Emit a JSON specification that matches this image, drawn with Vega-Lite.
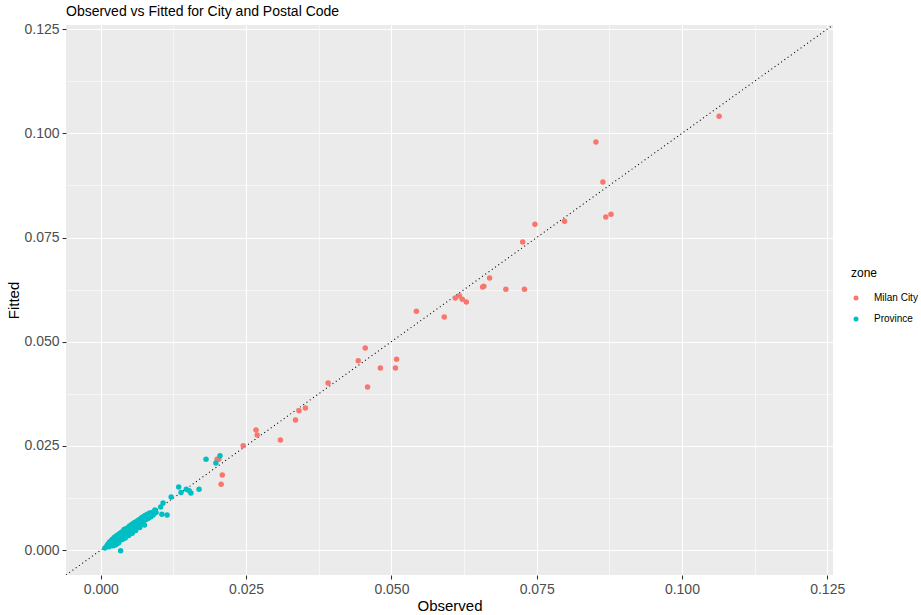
{
  "$schema": "https://vega.github.io/schema/vega-lite/v6.json",
  "width": 767,
  "height": 550,
  "autosize": {"type": "none"},
  "padding": {"left": 66, "top": 25, "right": 88, "bottom": 40},
  "background": "white",
  "title": {"text": "Observed vs Fitted for City and Postal Code", "anchor": "start", "frame": "group", "fontSize": 14, "fontWeight": "normal", "font": "Liberation Sans", "color": "black", "offset": 3},
  "config": {
    "view": {"stroke": null, "fill": "#EBEBEB"},
    "axis": {"labelFont": "Liberation Sans", "labelFontSize": 14, "labelColor": "#4D4D4D", "tickColor": "#333333", "tickSize": 4, "tickWidth": 1.1, "domain": false, "gridColor": "white", "gridWidth": 1.1, "titleFont": "Liberation Sans", "titleFontSize": 15, "titleFontWeight": "normal", "titleColor": "black", "labelPadding": 3},
    "legend": {"titleFont": "Liberation Sans", "labelFont": "Liberation Sans"}
  },
  "datasets": {
    "pts": [
      {"observed": 0.1064, "fitted": 0.1041, "zone": "Milan City"},
      {"observed": 0.0852, "fitted": 0.0979, "zone": "Milan City"},
      {"observed": 0.0864, "fitted": 0.0883, "zone": "Milan City"},
      {"observed": 0.0869, "fitted": 0.0799, "zone": "Milan City"},
      {"observed": 0.0878, "fitted": 0.0806, "zone": "Milan City"},
      {"observed": 0.0798, "fitted": 0.0789, "zone": "Milan City"},
      {"observed": 0.0747, "fitted": 0.0782, "zone": "Milan City"},
      {"observed": 0.0726, "fitted": 0.0739, "zone": "Milan City"},
      {"observed": 0.0669, "fitted": 0.0653, "zone": "Milan City"},
      {"observed": 0.0659, "fitted": 0.0633, "zone": "Milan City"},
      {"observed": 0.0657, "fitted": 0.0631, "zone": "Milan City"},
      {"observed": 0.0697, "fitted": 0.0626, "zone": "Milan City"},
      {"observed": 0.0729, "fitted": 0.0626, "zone": "Milan City"},
      {"observed": 0.0617, "fitted": 0.0610, "zone": "Milan City"},
      {"observed": 0.0610, "fitted": 0.0605, "zone": "Milan City"},
      {"observed": 0.0622, "fitted": 0.0602, "zone": "Milan City"},
      {"observed": 0.0629, "fitted": 0.0595, "zone": "Milan City"},
      {"observed": 0.0591, "fitted": 0.0559, "zone": "Milan City"},
      {"observed": 0.0543, "fitted": 0.0573, "zone": "Milan City"},
      {"observed": 0.0455, "fitted": 0.0485, "zone": "Milan City"},
      {"observed": 0.0443, "fitted": 0.0454, "zone": "Milan City"},
      {"observed": 0.0509, "fitted": 0.0458, "zone": "Milan City"},
      {"observed": 0.0507, "fitted": 0.0437, "zone": "Milan City"},
      {"observed": 0.0481, "fitted": 0.0437, "zone": "Milan City"},
      {"observed": 0.0391, "fitted": 0.0401, "zone": "Milan City"},
      {"observed": 0.0459, "fitted": 0.0391, "zone": "Milan City"},
      {"observed": 0.0352, "fitted": 0.0341, "zone": "Milan City"},
      {"observed": 0.0341, "fitted": 0.0334, "zone": "Milan City"},
      {"observed": 0.0335, "fitted": 0.0312, "zone": "Milan City"},
      {"observed": 0.0267, "fitted": 0.0288, "zone": "Milan City"},
      {"observed": 0.0269, "fitted": 0.0276, "zone": "Milan City"},
      {"observed": 0.0309, "fitted": 0.0264, "zone": "Milan City"},
      {"observed": 0.0245, "fitted": 0.0250, "zone": "Milan City"},
      {"observed": 0.0200, "fitted": 0.0218, "zone": "Milan City"},
      {"observed": 0.0203, "fitted": 0.0218, "zone": "Milan City"},
      {"observed": 0.0209, "fitted": 0.0180, "zone": "Milan City"},
      {"observed": 0.0207, "fitted": 0.0158, "zone": "Milan City"},
      {"observed": 0.0181, "fitted": 0.0218, "zone": "Province"},
      {"observed": 0.0205, "fitted": 0.0226, "zone": "Province"},
      {"observed": 0.0198, "fitted": 0.0209, "zone": "Province"},
      {"observed": 0.0169, "fitted": 0.0146, "zone": "Province"},
      {"observed": 0.0134, "fitted": 0.0151, "zone": "Province"},
      {"observed": 0.0147, "fitted": 0.0146, "zone": "Province"},
      {"observed": 0.0152, "fitted": 0.0142, "zone": "Province"},
      {"observed": 0.0155, "fitted": 0.0137, "zone": "Province"},
      {"observed": 0.0138, "fitted": 0.0138, "zone": "Province"},
      {"observed": 0.0121, "fitted": 0.0127, "zone": "Province"},
      {"observed": 0.0107, "fitted": 0.0113, "zone": "Province"},
      {"observed": 0.0103, "fitted": 0.0103, "zone": "Province"},
      {"observed": 0.0105, "fitted": 0.0086, "zone": "Province"},
      {"observed": 0.0114, "fitted": 0.0084, "zone": "Province"},
      {"observed": 0.0093, "fitted": 0.0096, "zone": "Province"},
      {"observed": 0.0089, "fitted": 0.0089, "zone": "Province"},
      {"observed": 0.0007, "fitted": 0.0005, "zone": "Province"},
      {"observed": 0.0010, "fitted": 0.0009, "zone": "Province"},
      {"observed": 0.0012, "fitted": 0.0014, "zone": "Province"},
      {"observed": 0.0014, "fitted": 0.0008, "zone": "Province"},
      {"observed": 0.0015, "fitted": 0.0019, "zone": "Province"},
      {"observed": 0.0017, "fitted": 0.0011, "zone": "Province"},
      {"observed": 0.0018, "fitted": 0.0023, "zone": "Province"},
      {"observed": 0.0019, "fitted": 0.0016, "zone": "Province"},
      {"observed": 0.0020, "fitted": 0.0026, "zone": "Province"},
      {"observed": 0.0021, "fitted": 0.0010, "zone": "Province"},
      {"observed": 0.0022, "fitted": 0.0018, "zone": "Province"},
      {"observed": 0.0023, "fitted": 0.0030, "zone": "Province"},
      {"observed": 0.0024, "fitted": 0.0021, "zone": "Province"},
      {"observed": 0.0025, "fitted": 0.0012, "zone": "Province"},
      {"observed": 0.0026, "fitted": 0.0033, "zone": "Province"},
      {"observed": 0.0027, "fitted": 0.0023, "zone": "Province"},
      {"observed": 0.0028, "fitted": 0.0015, "zone": "Province"},
      {"observed": 0.0029, "fitted": 0.0036, "zone": "Province"},
      {"observed": 0.0030, "fitted": 0.0027, "zone": "Province"},
      {"observed": 0.0031, "fitted": 0.0018, "zone": "Province"},
      {"observed": 0.0032, "fitted": 0.0039, "zone": "Province"},
      {"observed": 0.0033, "fitted": 0.0030, "zone": "Province"},
      {"observed": 0.0034, "fitted": -0.0002, "zone": "Province"},
      {"observed": 0.0035, "fitted": 0.0042, "zone": "Province"},
      {"observed": 0.0036, "fitted": 0.0033, "zone": "Province"},
      {"observed": 0.0037, "fitted": 0.0025, "zone": "Province"},
      {"observed": 0.0038, "fitted": 0.0045, "zone": "Province"},
      {"observed": 0.0039, "fitted": 0.0036, "zone": "Province"},
      {"observed": 0.0040, "fitted": 0.0049, "zone": "Province"},
      {"observed": 0.0041, "fitted": 0.0039, "zone": "Province"},
      {"observed": 0.0042, "fitted": 0.0029, "zone": "Province"},
      {"observed": 0.0043, "fitted": 0.0051, "zone": "Province"},
      {"observed": 0.0044, "fitted": 0.0042, "zone": "Province"},
      {"observed": 0.0046, "fitted": 0.0053, "zone": "Province"},
      {"observed": 0.0047, "fitted": 0.0044, "zone": "Province"},
      {"observed": 0.0048, "fitted": 0.0035, "zone": "Province"},
      {"observed": 0.0049, "fitted": 0.0057, "zone": "Province"},
      {"observed": 0.0050, "fitted": 0.0047, "zone": "Province"},
      {"observed": 0.0052, "fitted": 0.0060, "zone": "Province"},
      {"observed": 0.0053, "fitted": 0.0050, "zone": "Province"},
      {"observed": 0.0054, "fitted": 0.0040, "zone": "Province"},
      {"observed": 0.0055, "fitted": 0.0063, "zone": "Province"},
      {"observed": 0.0056, "fitted": 0.0053, "zone": "Province"},
      {"observed": 0.0058, "fitted": 0.0066, "zone": "Province"},
      {"observed": 0.0059, "fitted": 0.0056, "zone": "Province"},
      {"observed": 0.0060, "fitted": 0.0047, "zone": "Province"},
      {"observed": 0.0062, "fitted": 0.0069, "zone": "Province"},
      {"observed": 0.0063, "fitted": 0.0059, "zone": "Province"},
      {"observed": 0.0065, "fitted": 0.0072, "zone": "Province"},
      {"observed": 0.0066, "fitted": 0.0062, "zone": "Province"},
      {"observed": 0.0067, "fitted": 0.0054, "zone": "Province"},
      {"observed": 0.0069, "fitted": 0.0076, "zone": "Province"},
      {"observed": 0.0070, "fitted": 0.0066, "zone": "Province"},
      {"observed": 0.0072, "fitted": 0.0079, "zone": "Province"},
      {"observed": 0.0073, "fitted": 0.0069, "zone": "Province"},
      {"observed": 0.0075, "fitted": 0.0060, "zone": "Province"},
      {"observed": 0.0076, "fitted": 0.0083, "zone": "Province"},
      {"observed": 0.0078, "fitted": 0.0073, "zone": "Province"},
      {"observed": 0.0080, "fitted": 0.0086, "zone": "Province"},
      {"observed": 0.0082, "fitted": 0.0076, "zone": "Province"},
      {"observed": 0.0084, "fitted": 0.0089, "zone": "Province"},
      {"observed": 0.0086, "fitted": 0.0080, "zone": "Province"},
      {"observed": 0.0088, "fitted": 0.0090, "zone": "Province"},
      {"observed": 0.0090, "fitted": 0.0084, "zone": "Province"},
      {"observed": 0.0095, "fitted": 0.0090, "zone": "Province"}
    ],
    "diag": [
      {"observed": -0.006, "fitted": -0.006},
      {"observed": 0.126, "fitted": 0.126}
    ]
  },
  "resolve": {"axis": {"x": "independent", "y": "independent"}},
  "layer": [
    {
      "data": {"name": "diag"},
      "mark": {"type": "line", "color": "black", "strokeWidth": 1.1, "strokeDash": [1, 3], "clip": true},
      "encoding": {
        "x": {"field": "observed", "type": "quantitative", "scale": {"domain": [-0.006, 0.126], "nice": false, "zero": false},
              "axis": {"orient": "top", "values": [0.0125, 0.0375, 0.0625, 0.0875, 0.1125], "labels": false, "ticks": false, "domain": false, "title": null, "grid": true, "gridWidth": 0.55}},
        "y": {"field": "fitted", "type": "quantitative", "scale": {"domain": [-0.006, 0.126], "nice": false, "zero": false},
              "axis": {"orient": "right", "values": [0.0125, 0.0375, 0.0625, 0.0875, 0.1125], "labels": false, "ticks": false, "domain": false, "title": null, "grid": true, "gridWidth": 0.55}}
      }
    },
    {
      "data": {"name": "pts"},
      "mark": {"type": "circle", "size": 30, "opacity": 1},
      "encoding": {
        "x": {"field": "observed", "type": "quantitative", "title": "Observed",
              "axis": {"orient": "bottom", "grid": true, "values": [0, 0.025, 0.05, 0.075, 0.1, 0.125], "format": ".3f", "titlePadding": 2}},
        "y": {"field": "fitted", "type": "quantitative", "title": "Fitted",
              "axis": {"orient": "left", "grid": true, "values": [0, 0.025, 0.05, 0.075, 0.1, 0.125], "format": ".3f", "titlePadding": 2}},
        "color": {"field": "zone", "type": "nominal",
                  "scale": {"domain": ["Milan City", "Province"], "range": ["#F8766D", "#00BFC4"]},
                  "legend": {"orient": "none", "legendX": 785, "legendY": 243, "title": "zone", "titleFontSize": 12, "titleFontWeight": "normal", "titleColor": "black", "labelFontSize": 10, "labelColor": "black", "symbolType": "circle", "symbolSize": 25, "symbolOpacity": 1, "symbolStrokeWidth": 0, "rowPadding": 11, "labelOffset": 13, "padding": 0, "titlePadding": 13, "offset": 0}}
      }
    }
  ]
}
